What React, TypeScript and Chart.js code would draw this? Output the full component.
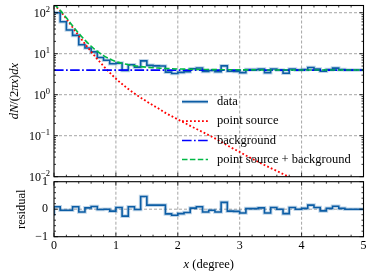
import React, { useEffect, useRef } from "react";
import { Chart, registerables } from "chart.js";

Chart.register(...registerables);

// ---------- data ----------
const binEdges = [0.0, 0.1, 0.2, 0.3, 0.4, 0.5, 0.6, 0.7, 0.8, 0.9, 1.0, 1.1, 1.2, 1.3, 1.4, 1.5, 1.6, 1.7, 1.8, 1.9, 2.0, 2.1, 2.2, 2.3, 2.4, 2.5, 2.6, 2.7, 2.8, 2.9, 3.0, 3.1, 3.2, 3.3, 3.4, 3.5, 3.6, 3.7, 3.8, 3.9, 4.0, 4.1, 4.2, 4.3, 4.4, 4.5, 4.6, 4.7, 4.8, 4.9, 5.0];

const dataValues = [112, 100, 60, 38, 28, 16.5, 13.8, 11.1, 8.1, 6.9, 5.7, 5.9, 3.9, 5.4, 4.7, 6.7, 5.2, 5.05, 5.0, 3.55, 3.3, 3.5, 3.65, 4.3, 4.5, 3.7, 3.9, 3.65, 5.05, 3.75, 3.7, 3.45, 4.1, 4.1, 4.2, 3.45, 4.25, 4.0, 3.35, 4.25, 4.0, 4.1, 4.6, 4.25, 3.75, 4.1, 4.45, 4.1, 4.0, 4.0];

const residualValues = [-0.23, 0.09, -0.04, -0.04, 0.09, -0.10, 0.05, 0.10, -0.01, 0.0, -0.07, 0.06, -0.25, 0.09, -0.01, 0.46, 0.15, 0.15, 0.15, -0.17, -0.22, -0.16, -0.12, 0.04, 0.09, -0.10, -0.04, -0.10, 0.25, -0.07, -0.08, -0.14, 0.02, 0.02, 0.05, -0.14, 0.06, 0.0, -0.16, 0.06, 0.0, 0.03, 0.15, 0.06, -0.06, 0.03, 0.11, 0.03, 0.0, 0.0];

const modelX = binEdges;

const pointSource = [158, 110, 71, 44, 27.5, 17.4, 11.2, 7.4, 5.0, 3.47, 2.45, 1.82, 1.38, 1.07, 0.85, 0.68, 0.55, 0.45, 0.36, 0.30, 0.25, 0.209, 0.174, 0.146, 0.123, 0.103, 0.086, 0.071, 0.058, 0.048, 0.040, 0.033, 0.0275, 0.023, 0.0193, 0.0163, 0.0138, 0.0116, 0.0098, 0.0083, 0.007, 0.006, 0.0051, 0.0044, 0.0038, 0.0033, 0.0029, 0.0025, 0.0022, 0.0019, 0.0017];

const totalModel = [162, 114, 75, 48, 31.5, 21.4, 15.2, 11.4, 9.0, 7.47, 6.45, 5.82, 5.38, 5.07, 4.85, 4.68, 4.55, 4.45, 4.36, 4.30, 4.25, 4.21, 4.17, 4.15, 4.12, 4.10, 4.09, 4.07, 4.06, 4.05, 4.04, 4.03, 4.03, 4.02, 4.02, 4.02, 4.01, 4.01, 4.01, 4.01, 4.01, 4.01, 4.01, 4.0, 4.0, 4.0, 4.0, 4.0, 4.0, 4.0, 4.0];

const backgroundX = [0, 5];
const backgroundY = [4.0, 4.0];

const yMajorTop = [0.01, 0.1, 1, 10, 100];
const yExpLabels = ["\u22122", "\u22121", "0", "1", "2"];
const xMajor = [0, 1, 2, 3, 4, 5];
const residualMajor = [-1, 0, 1];

const legendLabels = ["data", "point source", "background", "point source + background"];

// ---------- styles ----------
const SERIF = '"Liberation Serif", "DejaVu Serif", serif';
const C_DATA = "#0C5DA5";
const C_BAND = "rgba(12,93,165,0.26)";
const C_PS = "#FF0000";
const C_BG = "#0000FF";
const C_TOT = "#00B945";
const DASH_PS = [1.8, 2.2];
const DASH_BG = [9.6, 2.4, 1.7, 2.4];
const DASH_TOT = [5.5, 2.4];

function stepPoints(vals: number[]) {
  return binEdges.map((x, i) => ({ x, y: vals[Math.min(i, vals.length - 1)] }));
}
function pts(xs: number[], ys: number[]) {
  return xs.map((x, i) => ({ x, y: ys[i] }));
}

function line(ctx: CanvasRenderingContext2D, x1: number, y1: number, x2: number, y2: number) {
  ctx.beginPath();
  ctx.moveTo(x1, y1);
  ctx.lineTo(x2, y2);
  ctx.stroke();
}

function drawGrid(chart: any, xs: number[], ys: number[]) {
  const ctx = chart.ctx as CanvasRenderingContext2D;
  const a = chart.chartArea;
  const sx = chart.scales.x, sy = chart.scales.y;
  ctx.save();
  ctx.beginPath();
  ctx.rect(a.left, a.top, a.right - a.left, a.bottom - a.top);
  ctx.clip();
  ctx.strokeStyle = "rgba(0,0,0,0.45)";
  ctx.lineWidth = 0.8;
  ctx.setLineDash([3, 2]);
  for (const v of xs) {
    const p = sx.getPixelForValue(v);
    line(ctx, p, a.top, p, a.bottom);
  }
  for (const v of ys) {
    const p = sy.getPixelForValue(v);
    line(ctx, a.left, p, a.right, p);
  }
  ctx.restore();
}

function drawFrameTicks(chart: any, xt: { v: number; major: boolean }[], yt: { v: number; major: boolean }[]) {
  const ctx = chart.ctx as CanvasRenderingContext2D;
  const a = chart.chartArea;
  const sx = chart.scales.x, sy = chart.scales.y;
  ctx.save();
  ctx.strokeStyle = "#000";
  ctx.setLineDash([]);
  ctx.lineWidth = 0.8;
  for (const t of xt) {
    const p = sx.getPixelForValue(t.v);
    const L = t.major ? 4 : 2;
    line(ctx, p, a.bottom, p, a.bottom - L);
    line(ctx, p, a.top, p, a.top + L);
  }
  for (const t of yt) {
    const p = sy.getPixelForValue(t.v);
    const L = t.major ? 4 : 2;
    line(ctx, a.left, p, a.left + L, p);
    line(ctx, a.right, p, a.right - L, p);
  }
  ctx.lineWidth = 1.1;
  ctx.strokeRect(a.left, a.top, a.right - a.left, a.bottom - a.top);
  ctx.restore();
}

function drawMixed(ctx: CanvasRenderingContext2D, parts: [string, boolean][], cx: number, cy: number, size: number, rotate: boolean) {
  ctx.save();
  ctx.translate(cx, cy);
  if (rotate) ctx.rotate(-Math.PI / 2);
  ctx.fillStyle = "#000";
  ctx.textBaseline = "middle";
  ctx.textAlign = "left";
  const widths = parts.map(([t, it]) => {
    ctx.font = `${it ? "italic " : ""}${size}px ${SERIF}`;
    return ctx.measureText(t).width;
  });
  let x = -widths.reduce((s, w) => s + w, 0) / 2;
  parts.forEach(([t, it], i) => {
    ctx.font = `${it ? "italic " : ""}${size}px ${SERIF}`;
    ctx.fillText(t, x, 0);
    x += widths[i];
  });
  ctx.restore();
}

function xTickList() {
  const out: { v: number; major: boolean }[] = [];
  for (let i = 0; i <= 25; i++) out.push({ v: i * 0.2, major: i % 5 === 0 });
  return out;
}

function logTickList() {
  const out: { v: number; major: boolean }[] = [];
  for (const m of yMajorTop) {
    out.push({ v: m, major: true });
    for (let k = 2; k <= 9; k++) {
      const v = m * k;
      if (v <= 150) out.push({ v, major: false });
    }
  }
  return out;
}

function resTickList() {
  const out: { v: number; major: boolean }[] = [];
  for (let i = -5; i <= 5; i++) out.push({ v: i * 0.2, major: i % 5 === 0 });
  return out;
}

const topPlugin = {
  id: "topDecor",
  beforeDatasetsDraw(chart: any) {
    drawGrid(chart, xMajor.slice(1, -1), yMajorTop.slice(1));
  },
  afterDatasetsDraw(chart: any) {
    drawFrameTicks(chart, xTickList(), logTickList());
    const ctx = chart.ctx as CanvasRenderingContext2D;
    const a = chart.chartArea;
    const sy = chart.scales.y;
    ctx.save();
    ctx.fillStyle = "#000";
    ctx.textBaseline = "middle";
    ctx.textAlign = "left";
    yMajorTop.forEach((v, i) => {
      const py = sy.getPixelForValue(v);
      ctx.font = `12px ${SERIF}`;
      const wb = ctx.measureText("10").width;
      ctx.font = `8.5px ${SERIF}`;
      const we = ctx.measureText(yExpLabels[i]).width;
      const right = a.left - 4;
      ctx.font = `12px ${SERIF}`;
      ctx.fillText("10", right - we - wb, py + 1.5);
      ctx.font = `8.5px ${SERIF}`;
      ctx.fillText(yExpLabels[i], right - we, py - 3);
    });
    ctx.restore();
    drawMixed(ctx, [["dN", true], ["/(2", false], ["\u03c0x", true], [")", false], ["dx", true]], 15, (a.top + a.bottom) / 2, 12.5, true);

    // legend
    const rows = [101.7, 121.2, 140.5, 159.5];
    const x1 = 182, x2 = 208, tx = 217;
    ctx.save();
    ctx.lineCap = "butt";
    ctx.setLineDash([]);
    ctx.strokeStyle = C_BAND; ctx.lineWidth = 3.6; line(ctx, x1, rows[0], x2, rows[0]);
    ctx.strokeStyle = C_DATA; ctx.lineWidth = 1.6; line(ctx, x1, rows[0], x2, rows[0]);
    ctx.setLineDash(DASH_PS); ctx.strokeStyle = C_PS; ctx.lineWidth = 1.8; line(ctx, x1, rows[1], x2, rows[1]);
    ctx.setLineDash(DASH_BG); ctx.strokeStyle = C_BG; ctx.lineWidth = 1.7; line(ctx, x1, rows[2], x2, rows[2]);
    ctx.setLineDash(DASH_TOT); ctx.strokeStyle = C_TOT; ctx.lineWidth = 1.6; line(ctx, x1, rows[3], x2, rows[3]);
    ctx.setLineDash([]);
    ctx.fillStyle = "#000";
    ctx.font = `12.5px ${SERIF}`;
    ctx.textBaseline = "middle";
    ctx.textAlign = "left";
    legendLabels.forEach((t, i) => ctx.fillText(t, tx, rows[i]));
    ctx.restore();
  },
};

const botPlugin = {
  id: "botDecor",
  beforeDatasetsDraw(chart: any) {
    drawGrid(chart, xMajor.slice(1, -1), [0]);
  },
  afterDatasetsDraw(chart: any) {
    drawFrameTicks(chart, xTickList(), resTickList());
    const ctx = chart.ctx as CanvasRenderingContext2D;
    const a = chart.chartArea;
    drawMixed(ctx, [["residual", false]], 22, (a.top + a.bottom) / 2, 12.5, true);
    drawMixed(ctx, [["x", true], [" (degree)", false]], (a.left + a.right) / 2, 105, 12.5, false);
  },
};

const common = {
  animation: false as const,
  responsive: false,
  maintainAspectRatio: false,
  devicePixelRatio: 1,
  events: [] as any[],
  plugins: { legend: { display: false }, tooltip: { enabled: false } },
  elements: { point: { radius: 0 }, line: { borderCapStyle: "butt" as const } },
};

export default function App() {
  const topRef = useRef<HTMLCanvasElement>(null);
  const botRef = useRef<HTMLCanvasElement>(null);

  useEffect(() => {
    const top = new Chart(topRef.current!, {
      type: "line",
      data: {
        datasets: [
          { data: pts(modelX, totalModel), borderColor: C_TOT, borderWidth: 1.6, borderDash: DASH_TOT, cubicInterpolationMode: "monotone", clip: 0 } as any,
          { data: pts(backgroundX, backgroundY), borderColor: C_BG, borderWidth: 1.7, borderDash: DASH_BG, clip: 0 },
          { data: pts(modelX, pointSource), borderColor: C_PS, borderWidth: 1.8, borderDash: DASH_PS, cubicInterpolationMode: "monotone", clip: 0 },
          { data: stepPoints(dataValues), borderColor: C_DATA, borderWidth: 1.6, stepped: "after", clip: 0 },
          { data: stepPoints(dataValues), borderColor: C_BAND, borderWidth: 3.6, stepped: "after", clip: 0 },
        ],
      },
      options: {
        ...common,
        layout: { padding: { left: 54, right: 9.5, top: 5.5, bottom: 9.3 } },
        scales: {
          x: { type: "linear", min: 0, max: 5, display: false },
          y: { type: "logarithmic", min: 0.01, max: 150, display: false },
        },
      } as any,
      plugins: [topPlugin],
    });

    const bot = new Chart(botRef.current!, {
      type: "line",
      data: {
        datasets: [
          { data: stepPoints(residualValues), borderColor: C_DATA, borderWidth: 1.6, stepped: "after", clip: 0 },
          { data: stepPoints(residualValues), borderColor: C_BAND, borderWidth: 3.6, stepped: "after", clip: 0 },
        ],
      },
      options: {
        ...common,
        layout: { padding: { left: 0, right: 9.5, top: 21.7, bottom: 0 } },
        scales: {
          x: {
            type: "linear", min: 0, max: 5,
            ticks: { stepSize: 1, color: "#000", font: { family: SERIF, size: 12 }, padding: 1.5, maxRotation: 0, autoSkip: false },
            grid: { display: false, drawTicks: false },
            border: { display: false },
            afterFit: (s: any) => { s.height = 39.3; },
          },
          y: {
            type: "linear", min: -1, max: 1,
            afterBuildTicks: (s: any) => { s.ticks = residualMajor.map((v) => ({ value: v })); },
            ticks: {
              color: "#000", font: { family: SERIF, size: 12 }, padding: 6,
              callback: (v: any) => (Number(v) < 0 ? "\u2212" + Math.abs(Number(v)) : String(v)),
            },
            grid: { display: false, drawTicks: false },
            border: { display: false },
            afterFit: (s: any) => { s.width = 54; },
          },
        },
      } as any,
      plugins: [botPlugin],
    });

    return () => {
      top.destroy();
      bot.destroy();
    };
  }, []);

  return (
    <div style={{ position: "fixed", left: 0, top: 0, width: 373, height: 276, background: "#fff", overflow: "hidden" }}>
      <canvas ref={topRef} width={373} height={186} style={{ position: "absolute", left: 0, top: 0, width: 373, height: 186 }} />
      <canvas ref={botRef} width={373} height={116} style={{ position: "absolute", left: 0, top: 160, width: 373, height: 116 }} />
    </div>
  );
}
